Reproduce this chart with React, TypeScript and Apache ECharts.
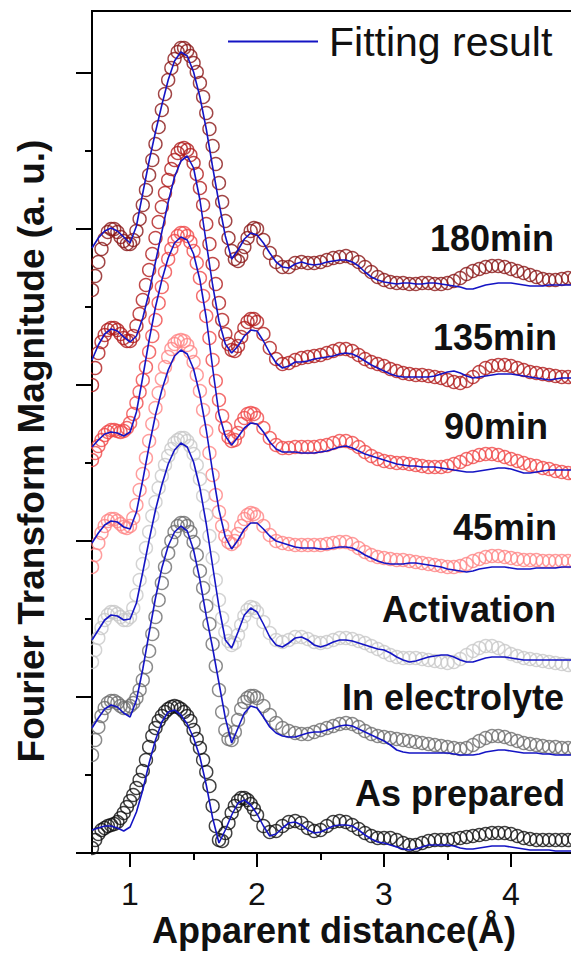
import React, { useEffect, useRef } from "react";
import * as echarts from "echarts";

// Apparent distance (Å) grids
const distanceData = [
  0.7, 0.725, 0.75, 0.775, 0.8, 0.825, 0.85, 0.875, 0.9, 0.925, 0.95, 0.975, 1,
  1.025, 1.05, 1.075, 1.1, 1.125, 1.15, 1.175, 1.2, 1.225, 1.25,
  1.275, 1.3, 1.325, 1.35, 1.375, 1.4, 1.425, 1.45, 1.475, 1.5,
  1.525, 1.55, 1.575, 1.6, 1.625, 1.65, 1.675, 1.7, 1.725, 1.75,
  1.775, 1.8, 1.825, 1.85, 1.875, 1.9, 1.925, 1.95, 1.975, 2,
  2.05, 2.1, 2.15, 2.2, 2.25, 2.3, 2.35, 2.4, 2.45, 2.5,
  2.55, 2.6, 2.65, 2.7, 2.75, 2.8, 2.85, 2.9, 2.95, 3,
  3.05, 3.1, 3.15, 3.2, 3.25, 3.3, 3.35, 3.4, 3.45, 3.5,
  3.55, 3.6, 3.65, 3.7, 3.75, 3.8, 3.85, 3.9, 3.95, 4,
  4.05, 4.1, 4.15, 4.2, 4.25, 4.3, 4.35, 4.4, 4.45, 4.5, 4.55,
];
const distanceFit = [
  0.7, 0.75, 0.8, 0.85, 0.9, 0.95, 1,
  1.05, 1.1, 1.15, 1.2, 1.25, 1.3, 1.35, 1.4, 1.45, 1.5,
  1.55, 1.6, 1.65, 1.7, 1.75, 1.8, 1.85, 1.9, 1.95, 2,
  2.05, 2.1, 2.15, 2.2, 2.25, 2.3, 2.35, 2.4, 2.45, 2.5,
  2.55, 2.6, 2.65, 2.7, 2.75, 2.8, 2.85, 2.9, 2.95, 3,
  3.05, 3.1, 3.15, 3.2, 3.25, 3.3, 3.35, 3.4, 3.45, 3.5,
  3.55, 3.6, 3.65, 3.7, 3.75, 3.8, 3.85, 3.9, 3.95, 4,
  4.05, 4.1, 4.15, 4.2, 4.25, 4.3, 4.35, 4.4, 4.45, 4.5, 4.55,
];

// Offset FT magnitudes (a. u.), measured data (circles)
const min180Data = [
  5.63, 5.77, 5.91, 6.04, 6.14, 6.21, 6.24, 6.24, 6.21, 6.16, 6.12, 6.09, 6.09,
  6.13, 6.22, 6.34, 6.48, 6.63, 6.78, 6.93, 7.09, 7.26, 7.43,
  7.59, 7.73, 7.85, 7.94, 8.01, 8.05, 8.05, 8.02, 7.97, 7.9,
  7.81, 7.7, 7.56, 7.4, 7.24, 7.07, 6.89, 6.7, 6.51, 6.32,
  6.15, 6.02, 5.94, 5.92, 5.97, 6.06, 6.15, 6.22, 6.25, 6.24,
  6.13, 6.0, 5.91, 5.86, 5.86, 5.9, 5.91, 5.9, 5.9, 5.91,
  5.93, 5.95, 5.96, 5.97, 5.95, 5.91, 5.86, 5.81, 5.76, 5.73,
  5.71, 5.7, 5.7, 5.69, 5.69, 5.7, 5.7, 5.69, 5.69, 5.7,
  5.72, 5.75, 5.79, 5.82, 5.84, 5.86, 5.87, 5.87, 5.86, 5.84,
  5.82, 5.8, 5.78, 5.76, 5.74, 5.73, 5.73, 5.74, 5.75, 5.75, 5.74,
];
const min135Data = [
  4.68, 4.85, 5.0, 5.11, 5.18, 5.23, 5.25, 5.25, 5.23, 5.19, 5.15, 5.12, 5.12,
  5.17, 5.27, 5.39, 5.53, 5.68, 5.83, 5.99, 6.15, 6.31, 6.46,
  6.6, 6.73, 6.84, 6.93, 7.0, 7.04, 7.05, 7.03, 6.98, 6.9,
  6.79, 6.65, 6.48, 6.29, 6.09, 5.89, 5.69, 5.5, 5.33, 5.19,
  5.09, 5.03, 5.02, 5.07, 5.16, 5.25, 5.31, 5.34, 5.34, 5.31,
  5.19, 5.05, 4.94, 4.89, 4.9, 4.93, 4.95, 4.96, 4.97, 4.98,
  5.0, 5.02, 5.04, 5.04, 5.02, 4.98, 4.94, 4.91, 4.89, 4.87,
  4.84, 4.82, 4.8, 4.79, 4.78, 4.78, 4.77, 4.76, 4.75, 4.73,
  4.71, 4.7, 4.72, 4.76, 4.81, 4.85, 4.87, 4.88, 4.88, 4.87,
  4.85, 4.83, 4.81, 4.8, 4.79, 4.78, 4.77, 4.76, 4.76, 4.76, 4.76,
];
const min90Data = [
  3.93, 4.0, 4.07, 4.13, 4.18, 4.21, 4.23, 4.23, 4.22, 4.21, 4.22, 4.25, 4.3,
  4.39, 4.5, 4.61, 4.73, 4.86, 5.01, 5.17, 5.33, 5.5, 5.66,
  5.81, 5.94, 6.04, 6.12, 6.17, 6.2, 6.2, 6.17, 6.11, 6.02,
  5.9, 5.75, 5.57, 5.37, 5.15, 4.93, 4.72, 4.53, 4.37, 4.25,
  4.16, 4.12, 4.13, 4.2, 4.29, 4.35, 4.39, 4.4, 4.39, 4.35,
  4.25, 4.15, 4.08, 4.05, 4.05, 4.06, 4.06, 4.06, 4.06, 4.07,
  4.08, 4.1, 4.12, 4.12, 4.1, 4.06, 4.01, 3.97, 3.94, 3.92,
  3.91, 3.9, 3.9, 3.89, 3.88, 3.87, 3.86, 3.86, 3.86, 3.87,
  3.89, 3.91, 3.94, 3.96, 3.98, 3.99, 3.99, 3.98, 3.96, 3.94,
  3.92, 3.9, 3.88, 3.87, 3.85, 3.84, 3.82, 3.81, 3.8, 3.79, 3.79,
];
const min45Data = [
  2.86, 2.98, 3.1, 3.2, 3.27, 3.32, 3.34, 3.34, 3.32, 3.29, 3.26, 3.25, 3.27,
  3.35, 3.48, 3.63, 3.79, 3.95, 4.12, 4.29, 4.45, 4.6, 4.74,
  4.86, 4.96, 5.04, 5.09, 5.12, 5.13, 5.12, 5.08, 5.01, 4.91,
  4.78, 4.62, 4.43, 4.22, 4.0, 3.78, 3.58, 3.41, 3.27, 3.17,
  3.11, 3.09, 3.12, 3.19, 3.27, 3.34, 3.38, 3.4, 3.39, 3.36,
  3.27, 3.18, 3.12, 3.1, 3.09, 3.08, 3.08, 3.08, 3.08, 3.08,
  3.09, 3.1, 3.11, 3.11, 3.09, 3.05, 3.01, 2.98, 2.96, 2.95,
  2.94, 2.93, 2.93, 2.92, 2.91, 2.9, 2.89, 2.88, 2.87, 2.86,
  2.86, 2.87, 2.89, 2.92, 2.94, 2.96, 2.97, 2.97, 2.96, 2.95,
  2.94, 2.93, 2.93, 2.93, 2.92, 2.92, 2.92, 2.92, 2.92, 2.92, 2.92,
];
const activationData = [
  1.91, 2.03, 2.15, 2.25, 2.33, 2.38, 2.41, 2.41, 2.39, 2.36, 2.33, 2.33, 2.36,
  2.45, 2.58, 2.73, 2.89, 3.05, 3.21, 3.37, 3.51, 3.65, 3.77,
  3.88, 3.97, 4.04, 4.1, 4.13, 4.15, 4.15, 4.12, 4.07, 3.99,
  3.88, 3.74, 3.57, 3.38, 3.17, 2.95, 2.73, 2.53, 2.35, 2.21,
  2.12, 2.08, 2.1, 2.18, 2.28, 2.37, 2.43, 2.46, 2.45, 2.41,
  2.31, 2.2, 2.13, 2.11, 2.13, 2.16, 2.16, 2.14, 2.11, 2.1,
  2.11, 2.13, 2.15, 2.15, 2.14, 2.12, 2.1, 2.07, 2.04, 2.01,
  1.98, 1.96, 1.95, 1.95, 1.95, 1.94, 1.93, 1.92, 1.91, 1.9,
  1.91, 1.94, 1.98, 2.02, 2.05, 2.07, 2.07, 2.05, 2.02, 1.99,
  1.97, 1.95, 1.94, 1.93, 1.92, 1.91, 1.9, 1.89, 1.88, 1.88, 1.88,
];
const electrolyteData = [
  0.98, 1.13, 1.26, 1.37, 1.45, 1.5, 1.52, 1.52, 1.5, 1.47, 1.45, 1.45, 1.47,
  1.5, 1.55, 1.63, 1.73, 1.86, 2.02, 2.19, 2.36, 2.53, 2.7,
  2.86, 3.0, 3.12, 3.21, 3.27, 3.3, 3.3, 3.27, 3.21, 3.11,
  2.98, 2.82, 2.65, 2.47, 2.29, 2.09, 1.87, 1.63, 1.41, 1.23,
  1.14, 1.13, 1.21, 1.33, 1.44, 1.51, 1.55, 1.57, 1.57, 1.55,
  1.47, 1.38, 1.3, 1.25, 1.22, 1.2, 1.19, 1.19, 1.21, 1.23,
  1.25, 1.27, 1.29, 1.3, 1.29, 1.26, 1.22, 1.19, 1.17, 1.16,
  1.15, 1.14, 1.13, 1.12, 1.11, 1.1, 1.09, 1.08, 1.07, 1.06,
  1.05, 1.04, 1.05, 1.08, 1.12, 1.15, 1.17, 1.17, 1.16, 1.14,
  1.12, 1.1, 1.09, 1.08, 1.07, 1.06, 1.06, 1.05, 1.05, 1.05, 1.05,
];
const preparedData = [
  0.05, 0.13, 0.19, 0.23, 0.25, 0.27, 0.28, 0.29, 0.31, 0.35, 0.4, 0.46, 0.52,
  0.58, 0.65, 0.73, 0.82, 0.93, 1.06, 1.17, 1.25, 1.32, 1.37,
  1.41, 1.44, 1.46, 1.47, 1.46, 1.44, 1.41, 1.37, 1.32, 1.23,
  1.14, 1.05, 0.93, 0.81, 0.67, 0.47, 0.27, 0.13, 0.12, 0.2,
  0.3, 0.4, 0.47, 0.52, 0.55, 0.55, 0.53, 0.49, 0.44, 0.38,
  0.27, 0.21, 0.22, 0.27, 0.31, 0.32, 0.3, 0.25, 0.22, 0.23,
  0.27, 0.31, 0.32, 0.31, 0.28, 0.24, 0.2, 0.17, 0.15, 0.15,
  0.15, 0.13, 0.1, 0.08, 0.08, 0.1, 0.12, 0.13, 0.13, 0.13,
  0.14, 0.15, 0.16, 0.17, 0.18, 0.19, 0.2, 0.2, 0.2, 0.19,
  0.17, 0.15, 0.14, 0.13, 0.13, 0.13, 0.13, 0.13, 0.13, 0.14, 0.14,
];

// Fitting results (blue lines)
const min180Fit = [
  6.05, 6.15, 6.22, 6.25, 6.22, 6.16, 6.1,
  6.27, 6.6, 6.92, 7.21, 7.48, 7.73, 7.92, 8.01, 7.97, 7.81, 7.56, 7.24, 6.86, 6.5, 6.17, 5.94, 6.03, 6.14, 6.2, 6.18,
  6.1, 6.0, 5.91, 5.86, 5.85, 5.89, 5.91, 5.89, 5.88, 5.89, 5.91, 5.92, 5.93, 5.93, 5.91, 5.87, 5.81, 5.76, 5.73, 5.71,
  5.7, 5.69, 5.7, 5.7, 5.69, 5.69, 5.7, 5.7, 5.69, 5.68, 5.67, 5.66, 5.64, 5.64, 5.66, 5.68, 5.69, 5.7, 5.7, 5.7,
  5.69, 5.68, 5.67, 5.67, 5.67, 5.68, 5.68, 5.68, 5.68, 5.68, 5.68,
];
const min135Fit = [
  4.93, 5.08, 5.19, 5.24, 5.22, 5.16, 5.11,
  5.17, 5.35, 5.61, 5.91, 6.21, 6.51, 6.76, 6.92, 6.97, 6.85, 6.53, 6.1, 5.68, 5.32, 5.09, 5.0, 5.07, 5.17, 5.23, 5.22,
  5.12, 5.0, 4.9, 4.85, 4.87, 4.91, 4.91, 4.92, 4.94, 4.95, 4.96, 4.97, 4.99, 5.0, 4.99, 4.96, 4.92, 4.88, 4.85, 4.82,
  4.79, 4.77, 4.76, 4.76, 4.76, 4.76, 4.76, 4.77, 4.79, 4.81, 4.82, 4.8, 4.77, 4.75, 4.76, 4.77, 4.78, 4.79, 4.79, 4.79,
  4.78, 4.77, 4.76, 4.75, 4.74, 4.73, 4.74, 4.75, 4.75, 4.75, 4.75,
];
const min90Fit = [
  4.06, 4.13, 4.19, 4.21, 4.2, 4.17, 4.21,
  4.41, 4.76, 5.13, 5.46, 5.73, 5.95, 6.1, 6.16, 6.13, 5.99, 5.73, 5.35, 4.85, 4.39, 4.17, 4.08, 4.16, 4.25, 4.3, 4.29,
  4.21, 4.11, 4.04, 4.01, 4.01, 4.01, 4.0, 4.0, 4.0, 4.01, 4.02, 4.04, 4.06, 4.07, 4.05, 4.02, 3.99, 3.97, 3.95, 3.93,
  3.91, 3.89, 3.88, 3.87, 3.87, 3.86, 3.86, 3.86, 3.85, 3.84, 3.83, 3.82, 3.81, 3.81, 3.82, 3.83, 3.84, 3.85, 3.85, 3.84,
  3.82, 3.8, 3.8, 3.81, 3.82, 3.83, 3.83, 3.83, 3.83, 3.83, 3.83,
];
const min45Fit = [
  3.1, 3.2, 3.28, 3.32, 3.31, 3.26, 3.24,
  3.41, 3.73, 4.07, 4.38, 4.63, 4.83, 4.97, 5.03, 4.99, 4.84, 4.58, 4.23, 3.81, 3.43, 3.16, 3.04, 3.13, 3.24, 3.3, 3.3,
  3.24, 3.17, 3.12, 3.1, 3.08, 3.06, 3.05, 3.05, 3.05, 3.04, 3.04, 3.05, 3.06, 3.06, 3.05, 3.02, 2.98, 2.95, 2.92, 2.9,
  2.89, 2.89, 2.89, 2.9, 2.9, 2.89, 2.88, 2.87, 2.86, 2.84, 2.83, 2.82, 2.81, 2.82, 2.84, 2.85, 2.86, 2.86, 2.86, 2.85,
  2.84, 2.84, 2.84, 2.85, 2.85, 2.85, 2.85, 2.86, 2.86, 2.86, 2.86,
];
const activationFit = [
  2.13, 2.23, 2.33, 2.38, 2.37, 2.33, 2.34,
  2.5, 2.81, 3.13, 3.43, 3.68, 3.89, 4.03, 4.1, 4.06, 3.91, 3.65, 3.29, 2.87, 2.46, 2.13, 2.05, 2.21, 2.38, 2.45, 2.41,
  2.29, 2.16, 2.08, 2.06, 2.1, 2.15, 2.16, 2.13, 2.08, 2.06, 2.08, 2.11, 2.13, 2.13, 2.12, 2.1, 2.08, 2.06, 2.04, 2.03,
  2.0, 1.96, 1.93, 1.91, 1.92, 1.94, 1.96, 1.97, 1.98, 1.98, 1.96, 1.93, 1.91, 1.91, 1.93, 1.95, 1.96, 1.96, 1.96, 1.95,
  1.94, 1.93, 1.93, 1.93, 1.93, 1.93, 1.93, 1.93, 1.93, 1.93, 1.93,
];
const electrolyteFit = [
  1.25, 1.35, 1.44, 1.48, 1.46, 1.4, 1.36,
  1.53, 1.84, 2.2, 2.55, 2.85, 3.07, 3.21, 3.27, 3.22, 3.03, 2.73, 2.37, 2.05, 1.7, 1.35, 1.1, 1.25, 1.4, 1.47, 1.45,
  1.36, 1.26, 1.2, 1.17, 1.16, 1.16, 1.18, 1.2, 1.21, 1.21, 1.23, 1.25, 1.27, 1.28, 1.27, 1.24, 1.21, 1.18, 1.15, 1.12,
  1.08, 1.03, 1.01, 1.0, 1.0, 1.0, 1.0, 1.0, 1.0, 1.0, 0.99, 0.98, 0.98, 0.98, 0.99, 1.01, 1.02, 1.03, 1.03, 1.02,
  1.01, 1.0, 1.0, 1.0, 0.99, 0.99, 0.98, 0.98, 0.98, 0.98, 0.98,
];
const preparedFit = [
  0.23, 0.25, 0.27, 0.27, 0.25, 0.22, 0.26,
  0.41, 0.63, 0.9, 1.13, 1.31, 1.41, 1.43, 1.38, 1.29, 1.15, 0.96, 0.68, 0.35, 0.1, 0.23, 0.38, 0.5, 0.53, 0.48, 0.39,
  0.27, 0.17, 0.19, 0.25, 0.3, 0.31, 0.28, 0.23, 0.2, 0.21, 0.24, 0.27, 0.28, 0.28, 0.27, 0.23, 0.18, 0.14, 0.11, 0.1,
  0.08, 0.06, 0.04, 0.03, 0.04, 0.06, 0.08, 0.08, 0.08, 0.08, 0.07, 0.05, 0.04, 0.04, 0.05, 0.06, 0.07, 0.07, 0.07, 0.06,
  0.05, 0.04, 0.03, 0.03, 0.03, 0.03, 0.02, 0.02, 0.02, 0.02, 0.02,
];

const sampleNames = ["180min", "135min", "90min", "45min", "Activation", "In electrolyte", "As prepared"];
const sampleData = [min180Data, min135Data, min90Data, min45Data, activationData, electrolyteData, preparedData];
const sampleFits = [min180Fit, min135Fit, min90Fit, min45Fit, activationFit, electrolyteFit, preparedFit];
const xTickValues = [1, 2, 3, 4];

const sampleColors = ["#8a1616", "#b01c1c", "#f04848", "#ff8585", "#c8c8c8", "#6e6e6e", "#111111"];
const labelPlacement = [
  [554, 238], [557, 337], [548, 426], [557, 527], [556, 609], [564, 697], [565, 793],
];
const FONT = '"Liberation Sans", Arial, Helvetica, sans-serif';
const FIT_COLOR = "#1414c4";

export default function App() {
  const ref = useRef<HTMLDivElement>(null);

  useEffect(() => {
    if (!ref.current) return;
    const chart = echarts.init(ref.current, null, { renderer: "svg" });

    const scatterSeries = sampleNames.map((name, k) => ({
      type: "scatter",
      name,
      xAxisIndex: 0,
      yAxisIndex: 0,
      data: distanceData.map((x, i) => [x, sampleData[k][i]]),
      symbol: "circle",
      symbolSize: 13,
      itemStyle: { color: "rgba(0,0,0,0)", borderColor: sampleColors[k], borderWidth: 1.4 },
      silent: true,
      z: 2,
    }));
    const fitSeries = sampleNames.map((name, k) => ({
      type: "line",
      name: "Fitting result",
      id: "fit-" + name,
      xAxisIndex: 0,
      yAxisIndex: 0,
      data: distanceFit.map((x, i) => [x, sampleFits[k][i]]),
      symbol: "none",
      lineStyle: { color: FIT_COLOR, width: 1.6 },
      itemStyle: { color: FIT_COLOR },
      silent: true,
      z: 3,
    }));

    const tickLine = { color: "#000", width: 2 };

    chart.setOption({
      animation: false,
      backgroundColor: "#fff",
      textStyle: { fontFamily: FONT },
      grid: [
        { left: 92, top: 11, width: 546, bottom: 104, outerBoundsMode: "none", containLabel: false, show: true, borderColor: "#000", borderWidth: 2 },
        { left: 92, top: 73, width: 546, bottom: 104, outerBoundsMode: "none", containLabel: false },
        { left: 130, top: 11, width: 508, bottom: 104, outerBoundsMode: "none", containLabel: false },
      ],
      xAxis: [
        { gridIndex: 0, type: "value", min: 0.7, max: 5, show: false },
        { gridIndex: 1, type: "value", min: 0, max: 1, show: false },
        {
          gridIndex: 2,
          type: "value",
          min: 1,
          max: 5,
          interval: 1,
          axisLine: { show: false },
          axisTick: { show: true, length: 14, lineStyle: tickLine },
          minorTick: { show: true, splitNumber: 2, length: 7, lineStyle: tickLine },
          splitLine: { show: false },
          minorSplitLine: { show: false },
          axisLabel: {
            fontSize: 32,
            color: "#111",
            margin: 25,
            fontFamily: FONT,
            showMaxLabel: false,
            formatter: (v: number) => (xTickValues.indexOf(v) >= 0 ? String(v) : ""),
          },
        },
      ],
      yAxis: [
        { gridIndex: 0, type: "value", min: 0, max: 8.42, show: false },
        {
          gridIndex: 1,
          type: "value",
          min: 0,
          max: 10,
          interval: 2,
          z: 100,
          axisLine: { show: false },
          axisTick: { show: true, length: 16, lineStyle: tickLine },
          minorTick: { show: true, splitNumber: 2, length: 7, lineStyle: tickLine },
          axisLabel: { show: false },
          splitLine: { show: false },
          minorSplitLine: { show: false },
        },
        { gridIndex: 2, type: "value", min: 0, max: 1, show: false },
      ],
      legend: {
        data: ["Fitting result"],
        left: 228,
        top: 21,
        padding: 0,
        icon: "rect",
        itemWidth: 90,
        itemHeight: 2,
        selectedMode: false,
        textStyle: { fontSize: 41, color: "#111", fontFamily: FONT, padding: [0, 0, 0, 6] },
      },
      graphic: [
        {
          type: "rect",
          z: 50,
          silent: true,
          shape: { x: 0, y: 0, width: 91, height: 870 },
          style: { fill: "#fff" },
        },
        ...sampleNames.map((name, k) => ({
          type: "text",
          z: 60,
          x: labelPlacement[k][0],
          y: labelPlacement[k][1],
          silent: true,
          style: {
            text: name,
            fill: "#111",
            fontSize: 36,
            fontWeight: "bold",
            fontFamily: FONT,
            align: "right",
            verticalAlign: "middle",
          },
        })),
        {
          type: "text",
          z: 60,
          x: 31,
          y: 451,
          rotation: Math.PI / 2,
          silent: true,
          style: {
            text: "Fourier Transform Magnitude (a. u.)",
            fill: "#111",
            fontSize: 37,
            fontWeight: "bold",
            fontFamily: FONT,
            align: "center",
            verticalAlign: "middle",
          },
        },
        {
          type: "text",
          z: 60,
          x: 334,
          y: 930,
          silent: true,
          style: {
            text: "Apparent distance(Å)",
            fill: "#111",
            fontSize: 36,
            fontWeight: "bold",
            fontFamily: FONT,
            align: "center",
            verticalAlign: "middle",
          },
        },
      ],
      series: [...scatterSeries, ...fitSeries],
    });

    return () => chart.dispose();
  }, []);

  return (
    <div
      ref={ref}
      style={{ position: "fixed", left: 0, top: 0, width: 571, height: 957, background: "#fff" }}
    />
  );
}
